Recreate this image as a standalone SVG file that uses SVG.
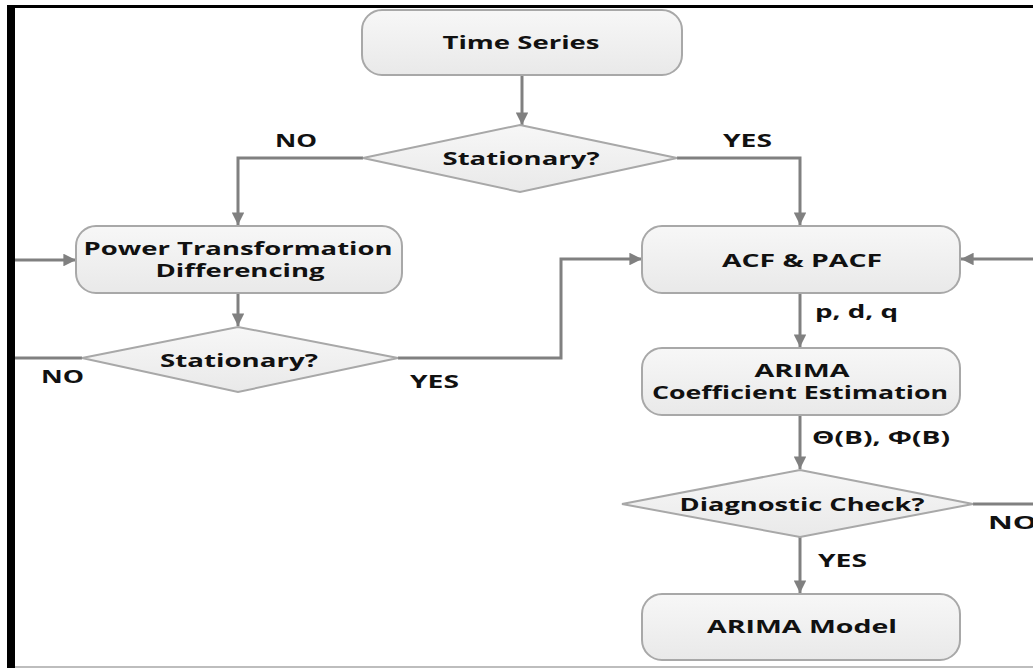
<svg xmlns="http://www.w3.org/2000/svg" width="1033" height="668" viewBox="0 0 1033 668">
<defs>
<linearGradient id="g" x1="0" y1="0" x2="0" y2="1">
<stop offset="0" stop-color="#f7f7f7"/><stop offset="1" stop-color="#e9e9e9"/>
</linearGradient>
<marker id="ah" viewBox="0 0 10 10" refX="10" refY="5" markerWidth="4.2" markerHeight="4.2" orient="auto" markerUnits="strokeWidth">
<path d="M0,0 L10,5 L0,10 z" fill="#808080"/>
</marker>
<style>
.box{fill:url(#g);stroke:#a8a8a8;stroke-width:2}
.dia{fill:url(#g);stroke:#a8a8a8;stroke-width:2}
.t{font-family:"Open Sans","Liberation Sans",sans-serif;font-weight:bold;font-size:18.5px;fill:#111}
.c{text-anchor:middle}
.conn{fill:none;stroke:#808080;stroke-width:3;marker-end:url(#ah)}
.line{fill:none;stroke:#808080;stroke-width:3}
</style>
</defs>
<rect width="1033" height="668" fill="#fff"/>

<g id="connectors">
<path class="conn" d="M522,75 V125"/>
<path class="conn" d="M363,158 H238 V225"/>
<path class="conn" d="M677,158 H800 V225"/>
<path class="conn" d="M238,293 V326"/>
<path class="conn" d="M82,358 H11 V260 H76"/>
<path class="conn" d="M398,358 H561 V259 H642"/>
<path class="conn" d="M1033,259 H961"/>
<path class="conn" d="M800,293 V347"/>
<path class="conn" d="M800,415 V469"/>
<path class="line" d="M973,504 H1033"/>
<path class="conn" d="M800,537 V593"/>
<text class="t" x="275" y="147" textLength="42" lengthAdjust="spacingAndGlyphs">NO</text>
<text class="t" x="723" y="147" textLength="49" lengthAdjust="spacingAndGlyphs">YES</text>
<text class="t" x="41" y="383" textLength="43" lengthAdjust="spacingAndGlyphs">NO</text>
<text class="t" x="410" y="388" textLength="49" lengthAdjust="spacingAndGlyphs">YES</text>
<text class="t" x="815" y="318" textLength="83" lengthAdjust="spacingAndGlyphs">p, d, q</text>
<text class="t" x="812" y="444" textLength="138" lengthAdjust="spacingAndGlyphs">Θ(B), Φ(B)</text>
<text class="t" x="988" y="529" textLength="49" lengthAdjust="spacingAndGlyphs">NO</text>
<text class="t" x="818" y="567" textLength="49" lengthAdjust="spacingAndGlyphs">YES</text>
</g>

<g id="time-series">
<rect class="box" x="362" y="10" width="320" height="65" rx="20"/>
<text class="t c" x="521" y="49" textLength="157" lengthAdjust="spacingAndGlyphs">Time Series</text>
</g>

<g id="stationary-1">
<polygon class="dia" points="520,125 677,158 520,192 363,158"/>
<text class="t c" x="521" y="165" textLength="157" lengthAdjust="spacingAndGlyphs">Stationary?</text>
</g>

<g id="power-transformation">
<rect class="box" x="76" y="226" width="326" height="67" rx="20"/>
<text class="t c" x="238" y="255" textLength="309" lengthAdjust="spacingAndGlyphs">Power Transformation</text>
<text class="t c" x="240" y="277" textLength="169" lengthAdjust="spacingAndGlyphs">Differencing</text>
</g>

<g id="stationary-2">
<polygon class="dia" points="238,327 398,358 238,392 82,358"/>
<text class="t c" x="239" y="367" textLength="158" lengthAdjust="spacingAndGlyphs">Stationary?</text>
</g>

<g id="acf-pacf">
<rect class="box" x="642" y="226" width="318" height="67" rx="20"/>
<text class="t c" x="802" y="267" textLength="160" lengthAdjust="spacingAndGlyphs">ACF &amp; PACF</text>
</g>

<g id="arima-estimation">
<rect class="box" x="642" y="348" width="318" height="67" rx="20"/>
<text class="t c" x="802" y="377" textLength="95" lengthAdjust="spacingAndGlyphs">ARIMA</text>
<text class="t c" x="800" y="399" textLength="296" lengthAdjust="spacingAndGlyphs">Coefficient Estimation</text>
</g>

<g id="diagnostic-check">
<polygon class="dia" points="800,470 973,504 800,537 622,504"/>
<text class="t c" x="802" y="511" textLength="245" lengthAdjust="spacingAndGlyphs">Diagnostic Check?</text>
</g>

<g id="arima-model">
<rect class="box" x="642" y="594" width="318" height="66" rx="20"/>
<text class="t c" x="802" y="633" textLength="190" lengthAdjust="spacingAndGlyphs">ARIMA Model</text>
</g>

<g id="frame">
<rect x="7" y="5" width="1026" height="3" fill="#000"/>
<rect x="7" y="5" width="8" height="663" fill="#000"/>
<rect x="15" y="666" width="1018" height="2" fill="#bdbdbd"/>
</g>
</svg>
